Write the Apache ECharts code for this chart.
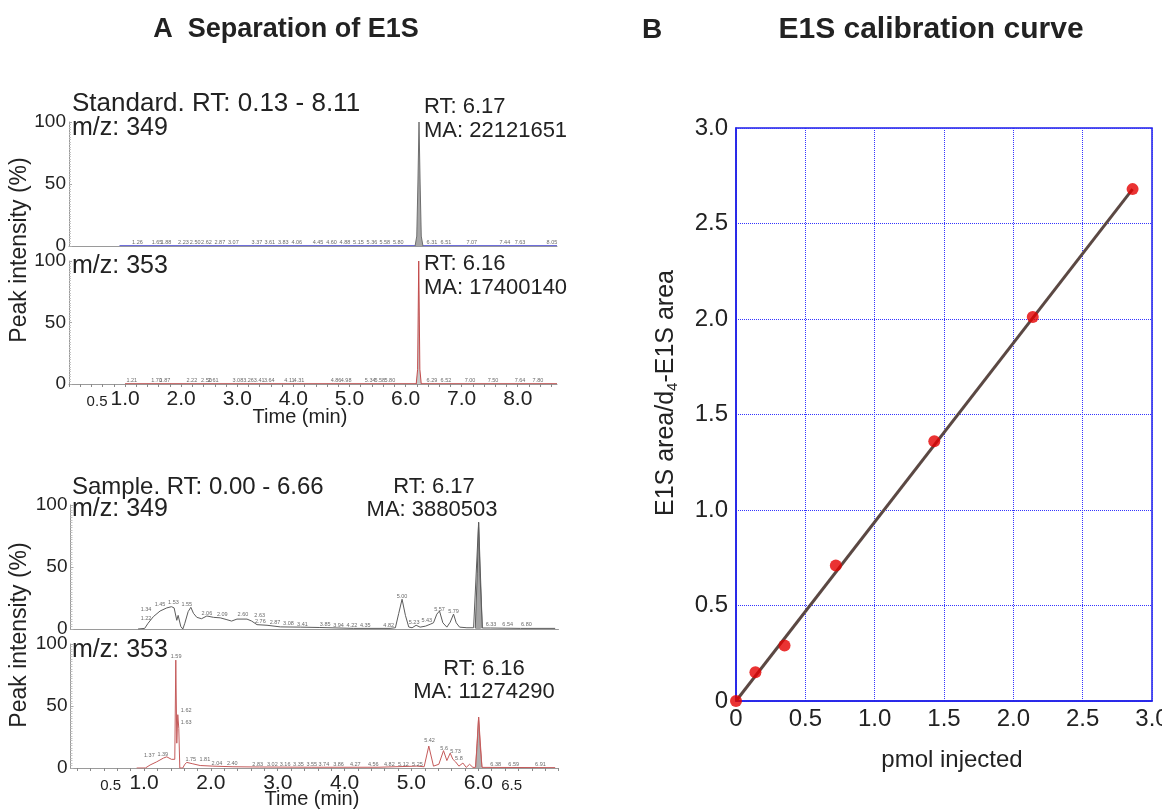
<!DOCTYPE html>
<html>
<head>
<meta charset="utf-8">
<script src="https://cdn.jsdelivr.net/npm/echarts@6/dist/echarts.min.js"></script>
<style>
  html, body { margin: 0; padding: 0; background: #fff; }
  #chart { width: 1162px; height: 810px; }
</style>
</head>
<body>
<div id="chart"></div>
<script>
// Panel A: chromatograms. x = position on the drawn time axis, y = peak intensity (%)
const stdTimeLabels = [0.5, 1, 2, 3, 4, 5, 6, 7, 8]
const sampleTimeLabels = [0.5, 1, 2, 3, 4, 5, 6, 6.5]
const intensityLabels = [0, 50, 100]

// standard, m/z 349
const std349Trace = [[0.9, 0.3], [6.17, 0.3], [6.31, 0.3], [8.7, 0.3]]
const std349Peak = [[6.17, 0], [6.2, 8], [6.22, 50], [6.24, 100], [6.26, 50], [6.28, 8], [6.31, 0]]
const std349Labels = [
  [1.22, '1.26'], [1.57, '1.65'], [1.73, '1.88'], [2.04, '2.23'], [2.25, '2.50'], [2.45, '2.62'],
  [2.69, '2.87'], [2.93, '3.07'], [3.35, '3.37'], [3.58, '3.61'], [3.82, '3.83'], [4.06, '4.06'],
  [4.44, '4.45'], [4.68, '4.60'], [4.92, '4.88'], [5.16, '5.15'], [5.40, '5.36'], [5.63, '5.58'],
  [5.87, '5.80'], [6.47, '6.31'], [6.72, '6.51'], [7.18, '7.07'], [7.77, '7.44'], [8.04, '7.63'],
  [8.61, '8.05']
]

// standard, m/z 353
const std353Trace = [[1.0, 0.3], [8.7, 0.3]]
const std353Peak = [[6.19, 0], [6.215, 12], [6.235, 100], [6.255, 12], [6.28, 0]]
const std353Labels = [
  [1.12, '1.21'], [1.56, '1.70'], [1.71, '1.87'], [2.19, '2.22'], [2.45, '2.50'], [2.57, '2.61'],
  [3.01, '3.08'], [3.20, '3.26'], [3.39, '3.41'], [3.57, '3.64'], [3.93, '4.11'], [4.10, '4.31'],
  [4.76, '4.86'], [4.94, '4.98'], [5.37, '5.34'], [5.54, '5.58'], [5.72, '5.80'], [6.47, '6.29'],
  [6.72, '6.52'], [7.15, '7.00'], [7.56, '7.50'], [8.04, '7.64'], [8.36, '7.80']
]

// sample, m/z 349
const smp349Trace = [
  [0.91, 0], [1.01, 0.5], [1.06, 4.6], [1.14, 10], [1.24, 14.5], [1.34, 17], [1.41, 18], [1.45, 17],
  [1.49, 7], [1.51, 11], [1.55, 2], [1.58, 0], [1.61, 4.6], [1.66, 14], [1.70, 17.5], [1.74, 12.6],
  [1.79, 9.4], [1.86, 8.3], [1.94, 10.5], [2.04, 9.4], [2.14, 9], [2.24, 7.5], [2.31, 6.4], [2.39, 8],
  [2.54, 8], [2.61, 6.4], [2.69, 3.5], [2.84, 3], [3.04, 1.7], [3.34, 1.5], [3.63, 1.2], [4.13, 0.5],
  [4.68, 0.5], [4.76, 1], [4.81, 12.6], [4.86, 24], [4.91, 11], [4.96, 1.6], [5.01, 1], [5.07, 3],
  [5.13, 1.5], [5.21, 2.3], [5.28, 3.8], [5.33, 5], [5.38, 12], [5.42, 14.5], [5.47, 5], [5.53, 1.5],
  [5.58, 5.5], [5.63, 12], [5.67, 5], [5.72, 1.5], [5.83, 1], [5.93, 1], [5.955, 0.8], [6.005, 86],
  [6.06, 0.8], [6.18, 0.8], [6.63, 0.5], [7.15, 0.5]
]
const smp349Peak = [[5.955, 0.8], [5.985, 45], [6.005, 86], [6.025, 45], [6.06, 0.8]]
const smp349Labels = [
  [1.03, 8.6, '1.22'], [1.03, 16, '1.34'], [1.24, 19.4, '1.45'], [1.44, 21.2, '1.53'], [1.64, 20, '1.55'],
  [1.94, 12.7, '2.06'], [2.17, 11.9, '2.09'], [2.48, 11.9, '2.60'], [2.73, 10.5, '2.63'], [2.74, 5.9, '2.76'],
  [2.96, 5.1, '2.87'], [3.16, 4.6, '3.08'], [3.37, 4, '3.41'], [3.71, 3.8, '3.85'], [3.91, 3.2, '3.94'],
  [4.11, 2.7, '4.22'], [4.31, 2.7, '4.35'], [4.66, 2.7, '4.82'], [4.86, 26.6, '5.00'], [5.04, 5.4, '5.23'],
  [5.23, 6.7, '5.43'], [5.42, 16, '5.57'], [5.63, 14.5, '5.79'], [6.19, 4, '6.33'], [6.44, 4, '6.54'],
  [6.72, 4, '6.80']
]

// sample, m/z 353
const smp353Trace = [
  [0.89, 0], [1.02, 0], [1.09, 2.4], [1.19, 5], [1.29, 8], [1.34, 9], [1.41, 7], [1.46, 7],
  [1.475, 87], [1.49, 20], [1.505, 43], [1.52, 32], [1.535, 0], [1.58, 0], [1.61, 3], [1.64, 4.5],
  [1.72, 3.5], [1.84, 2], [2.03, 1.5], [2.33, 1], [2.73, 0.8], [3.5, 0.6], [4.5, 0.6], [5.08, 1.5],
  [5.19, 1], [5.26, 17.7], [5.33, 1.5], [5.41, 3], [5.48, 14], [5.53, 6], [5.58, 12], [5.62, 7],
  [5.66, 5], [5.71, 1.5], [5.77, 4], [5.82, 0.5], [5.87, 3], [5.92, 0.5], [5.96, 0.5], [6.005, 41],
  [6.055, 0.5], [7.15, 0.3]
]
const smp353Peak = [[5.96, 0.5], [5.985, 20], [6.005, 41], [6.025, 20], [6.055, 0.5]]
const smp353Labels = [
  [1.08, 10, '1.37'], [1.28, 10.6, '1.39'], [1.48, 90, '1.59'], [1.63, 46, '1.62'], [1.63, 37, '1.63'],
  [1.70, 7, '1.75'], [1.91, 6.5, '1.81'], [2.09, 4, '2.04'], [2.32, 4, '2.40'], [2.70, 3, '2.83'],
  [2.92, 3, '3.02'], [3.11, 3, '3.16'], [3.31, 3, '3.35'], [3.51, 3, '3.55'], [3.69, 3, '3.74'],
  [3.91, 3, '3.86'], [4.16, 3, '4.27'], [4.43, 3, '4.56'], [4.67, 3, '4.82'], [4.88, 3, '5.12'],
  [5.09, 3, '5.25'], [5.27, 22, '5.42'], [5.49, 16, '5.6'], [5.66, 13, '5.73'], [5.71, 8, '5.8'],
  [6.26, 3, '6.38'], [6.53, 3, '6.59'], [6.93, 3, '6.91']
]

// Panel B: calibration curve
const pmolInjected = [0, 0.14, 0.35, 0.72, 1.43, 2.14, 2.86]
const areaRatio = [0, 0.15, 0.29, 0.71, 1.36, 2.01, 2.68]
const fitX = [0, 2.86]
const fitY = [0, 2.68]

const FONT = '"Liberation Sans", Arial, sans-serif'
const INK = '#222'

// ---------- helpers ----------
function stepTicks(min, max, step) {
  const out = []
  for (let v = min; v <= max + 1e-9; v += step) out.push(Math.round(v * 100) / 100)
  return out
}

function timeAxis(gridIndex, min, max, labels, showLabels) {
  return {
    type: 'value', gridIndex, min, max,
    axisLine: { lineStyle: { color: '#9a9a9a', width: 1 } },
    axisTick: {
      show: showLabels, customValues: stepTicks(0, max, 0.2),
      length: 3, lineStyle: { color: '#8a8a8a' }
    },
    axisLabel: {
      show: showLabels, customValues: labels, margin: 5,
      fontFamily: FONT, fontSize: 21, color: INK,
      formatter: v => (v === 0.5 || v === 6.5) ? '{s|' + v.toFixed(1) + '}' : v.toFixed(1),
      rich: { s: { fontFamily: FONT, fontSize: 15, color: INK, padding: [5, 0, 0, 0] } }
    },
    splitLine: { show: false }
  }
}

function intensityAxis(gridIndex) {
  return {
    type: 'value', gridIndex, min: 0, max: 100, interval: 50,
    axisLine: { show: true, onZero: false, lineStyle: { color: '#9a9a9a', width: 1 } },
    axisTick: { show: true, inside: true, length: 3, lineStyle: { color: '#aaa' } },
    minorTick: { show: true, splitNumber: 25, length: 2, lineStyle: { color: '#c4c4c4' } },
    axisLabel: { customValues: intensityLabels, fontFamily: FONT, fontSize: 19, color: INK, margin: 3 },
    splitLine: { show: false }
  }
}

function trace(i, data, color) {
  return {
    type: 'line', xAxisIndex: i, yAxisIndex: i, data, symbol: 'none',
    lineStyle: { color, width: 1 }, z: 2, silent: true
  }
}

function peak(i, data, color, fill) {
  return {
    type: 'line', xAxisIndex: i, yAxisIndex: i, data, symbol: 'none',
    lineStyle: { color, width: 1 }, areaStyle: { color: fill, opacity: 1 }, z: 3, silent: true
  }
}

function peakLabels(i, data, height) {
  return {
    type: 'scatter', xAxisIndex: i, yAxisIndex: i, symbolSize: 0, silent: true, z: 4,
    data: data.map(d => d.length === 3 ? [d[0], d[1], d[2]] : [d[0], height, d[1]]),
    label: {
      show: true, position: 'inside', fontFamily: FONT, fontSize: 5.5, color: '#444',
      formatter: p => p.data[2]
    }
  }
}

function text(str, x, y, size, extra) {
  return Object.assign({
    type: 'text', x, y, silent: true,
    style: Object.assign({
      text: str, fontFamily: FONT, fontSize: size, fill: INK,
      align: 'left', verticalAlign: 'middle', textAlign: 'left', textVerticalAlign: 'middle'
    }, extra && extra.style)
  }, extra && extra.el)
}

function centered(str, x, y, size, weight) {
  return text(str, x, y, size, { style: { align: 'center', textAlign: 'center', fontWeight: weight || 'normal' } })
}

function calibAxis(gridIndex, margin) {
  return {
    type: 'value', gridIndex, min: 0, max: 3, interval: 0.5,
    axisLine: { show: true, lineStyle: { color: '#1f1fe6', width: 1.5 } },
    axisTick: { show: false },
    axisLabel: {
      fontFamily: FONT, fontSize: 24, color: INK, margin,
      formatter: v => v === 0 ? '0' : v.toFixed(1)
    },
    splitLine: { lineStyle: { color: '#3434ff', width: 1, type: [1, 1] } }
  }
}

// ---------- option ----------
const stdMax = 8.7
const smpMin = -0.1, smpMax = 7.2

const option = {
  animation: false,
  backgroundColor: '#fff',
  grid: [
    { left: 69, top: 122, width: 488, height: 124, outerBoundsMode: 'none' },
    { left: 69, top: 261, width: 488, height: 123, outerBoundsMode: 'none' },
    { left: 70.5, top: 505, width: 488, height: 124, outerBoundsMode: 'none' },
    { left: 70.5, top: 644, width: 488, height: 124, outerBoundsMode: 'none' },
    {
      left: 736, top: 128, width: 416, height: 573, outerBoundsMode: 'none',
      show: true, borderColor: '#1f1fe6', borderWidth: 1.5
    }
  ],
  xAxis: [
    timeAxis(0, 0, stdMax, stdTimeLabels, false),
    timeAxis(1, 0, stdMax, stdTimeLabels, true),
    timeAxis(2, smpMin, smpMax, sampleTimeLabels, false),
    timeAxis(3, smpMin, smpMax, sampleTimeLabels, true),
    calibAxis(4, 6)
  ],
  yAxis: [
    intensityAxis(0), intensityAxis(1), intensityAxis(2), intensityAxis(3),
    calibAxis(4, 8)
  ],
  series: [
    trace(0, std349Trace, '#5a5ad6'),
    peak(0, std349Peak, '#6e6e6e', '#a6a6a6'),
    peakLabels(0, std349Labels, 2.7),

    trace(1, std353Trace, '#c25a5a'),
    peak(1, std353Peak, '#c24a4a', '#c9c9c9'),
    peakLabels(1, std353Labels, 2.7),

    trace(2, smp349Trace, '#5c5c5c'),
    peak(2, smp349Peak, '#5c5c5c', '#a3a3a3'),
    peakLabels(2, smp349Labels),

    trace(3, smp353Trace, '#c45a5a'),
    peak(3, smp353Peak, '#c45a5a', '#b0b0b0'),
    peakLabels(3, smp353Labels),

    {
      type: 'line', xAxisIndex: 4, yAxisIndex: 4, symbol: 'none', z: 3, silent: true,
      data: fitX.map((x, k) => [x, fitY[k]]),
      lineStyle: { color: '#5b4843', width: 3 }
    },
    {
      type: 'scatter', xAxisIndex: 4, yAxisIndex: 4, symbolSize: 12, z: 5, clip: false, silent: true,
      data: pmolInjected.map((x, k) => [x, areaRatio[k]]),
      itemStyle: { color: '#e50000' }
    }
  ],
  graphic: [
    // panel titles
    centered('A  Separation of E1S', 286, 30, 27, 'bold'),
    centered('B', 652, 30, 28, 'bold'),
    centered('E1S calibration curve', 931, 30, 30, 'bold'),

    // standard run
    text('Standard. RT: 0.13 - 8.11', 72, 104, 26),
    text('m/z: 349', 72, 128, 25),
    text('RT: 6.17', 424, 107, 22),
    text('MA: 22121651', 424, 131, 22),
    text('m/z: 353', 72, 266, 25),
    text('RT: 6.16', 424, 264, 22),
    text('MA: 17400140', 424, 288, 22),
    centered('Time (min)', 300, 417, 20),

    // sample run
    text('Sample. RT: 0.00 - 6.66', 72, 487, 24),
    text('m/z: 349', 72, 509, 25),
    centered('RT: 6.17', 434, 487, 22),
    centered('MA: 3880503', 432, 510, 22),
    text('m/z: 353', 72, 650, 25),
    centered('RT: 6.16', 484, 669, 22),
    centered('MA: 11274290', 484, 692, 22),
    centered('Time (min)', 312, 799, 20),

    // shared y titles of panel A
    text('Peak intensity (%)', 20, 250, 23, { style: { align: 'center', textAlign: 'center' }, el: { rotation: Math.PI / 2 } }),
    text('Peak intensity (%)', 20, 635, 23, { style: { align: 'center', textAlign: 'center' }, el: { rotation: Math.PI / 2 } }),

    // panel B axis titles
    centered('pmol injected', 952, 760, 24),
    {
      type: 'text', x: 666, y: 393, rotation: Math.PI / 2, silent: true,
      style: {
        text: '{a|E1S area/d}{b|4}{a|-E1S area}',
        align: 'center', verticalAlign: 'middle', textAlign: 'center', textVerticalAlign: 'middle',
        rich: {
          a: { fontFamily: FONT, fontSize: 25, fill: INK, color: INK, lineHeight: 28 },
          b: { fontFamily: FONT, fontSize: 15, fill: INK, color: INK, lineHeight: 15, padding: [13, 0, 0, 0] }
        }
      }
    }
  ]
}

const chart = echarts.init(document.getElementById('chart'))
chart.setOption(option)
</script>
</body>
</html>
